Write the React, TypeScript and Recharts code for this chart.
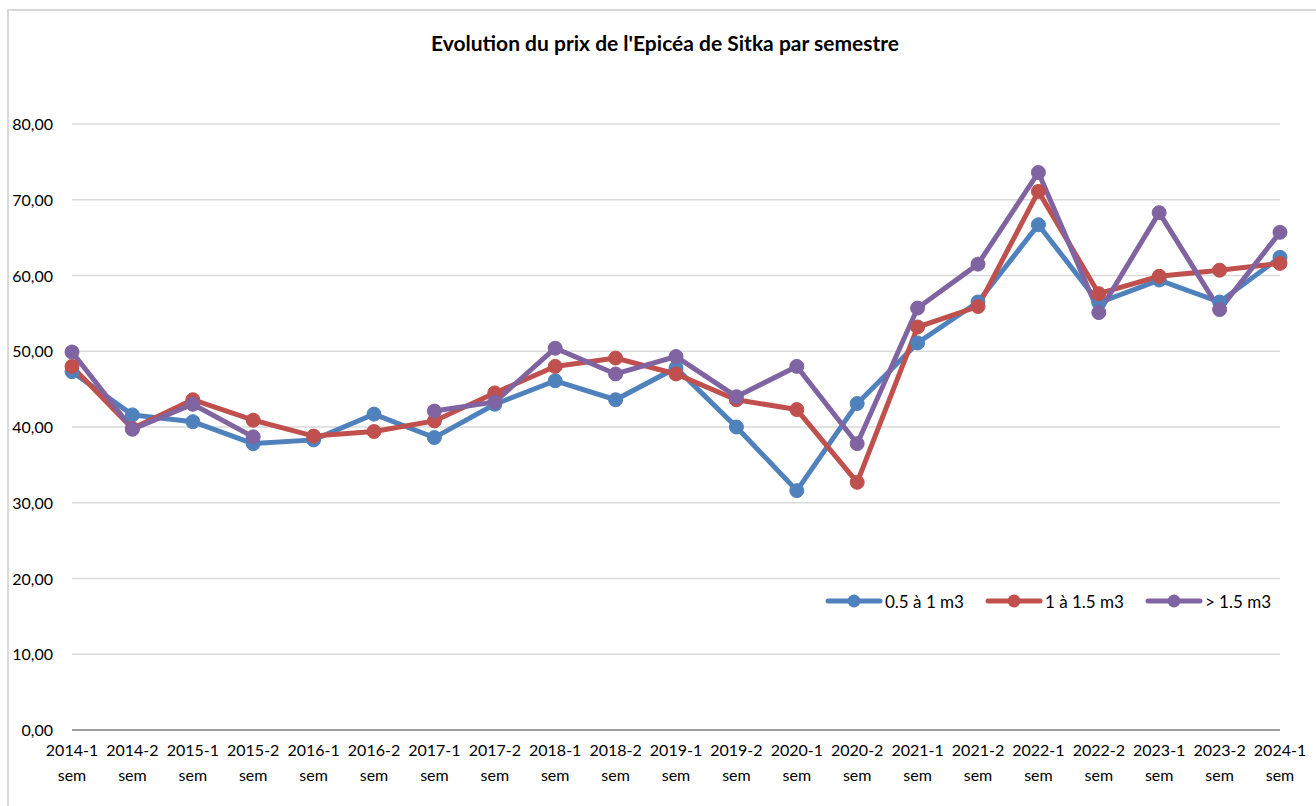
import React from "react";
import { LineChart, Line, XAxis, YAxis, CartesianGrid } from "recharts";

const categories = [
  "2014-1 sem", "2014-2 sem", "2015-1 sem", "2015-2 sem", "2016-1 sem", "2016-2 sem",
  "2017-1 sem", "2017-2 sem", "2018-1 sem", "2018-2 sem", "2019-1 sem", "2019-2 sem",
  "2020-1 sem", "2020-2 sem", "2021-1 sem", "2021-2 sem", "2022-1 sem", "2022-2 sem",
  "2023-1 sem", "2023-2 sem", "2024-1 sem",
];

const small = [47.3, 41.6, 40.7, 37.8, 38.3, 41.7, 38.6, 43.0, 46.1, 43.6, 47.8, 40.0, 31.6, 43.1, 51.1, 56.5, 66.7, 56.4, 59.4, 56.5, 62.4];
const medium = [48.0, 39.8, 43.6, 40.9, 38.8, 39.4, 40.8, 44.5, 48.0, 49.1, 47.0, 43.6, 42.3, 32.7, 53.2, 55.9, 71.1, 57.6, 59.9, 60.7, 61.6];
const large: (number | null)[] = [49.9, 39.7, 43.0, 38.7, null, null, 42.1, 43.3, 50.4, 47.0, 49.3, 44.0, 48.0, 37.8, 55.7, 61.5, 73.6, 55.1, 68.3, 55.5, 65.7];

const yTicks = [0, 10, 20, 30, 40, 50, 60, 70, 80];

const seriesNames = ["0.5 à 1 m3", "1 à 1.5 m3", "> 1.5 m3"];
const colors = ["#4F81BD", "#C0504D", "#8064A2"];

const data = categories.map((c, i) => ({
  cat: c,
  s0: small[i],
  s1: medium[i],
  s2: large[i],
}));

const FONT = "Lato, 'Open Sans', sans-serif";

const XTick = (props: any) => {
  const { x, y, payload } = props;
  const parts = String(payload.value).split(" ");
  return (
    <text x={x} y={y} textAnchor="middle" fill="#000" fontSize={16} fontFamily={FONT}>
      <tspan x={x} dy={18}>{parts[0]}</tspan>
      <tspan x={x} dy={25}>{parts[1]}</tspan>
    </text>
  );
};

const YTick = (props: any) => {
  const { x, y, payload } = props;
  return (
    <text x={x} y={y} dy={6} textAnchor="end" fill="#000" fontSize={16} fontFamily={FONT}>
      {Number(payload.value).toFixed(2).replace(".", ",")}
    </text>
  );
};

const Dot = (props: any) => {
  const { cx, cy, stroke, value } = props;
  if (value === null || value === undefined || cx == null || cy == null) return null;
  return <circle cx={cx} cy={cy} r={7} fill={stroke} stroke={stroke} strokeWidth={1} />;
};

export default function App() {
  return (
    <div style={{ position: "absolute", left: 0, top: 0, width: 1316, height: 806, background: "#fff", overflow: "hidden", fontFamily: FONT }}>
      <div style={{ position: "absolute", left: 7, top: 9, width: 1400, height: 900, borderTop: "2px solid #D9D9D9", borderLeft: "2px solid #D9D9D9" }} />
      <div style={{ position: "absolute", left: 0, top: 30, width: 1330, textAlign: "center", fontWeight: 700, fontSize: 21, color: "#000" }}>
        Evolution du prix de l'Epicéa de Sitka par semestre
      </div>
      <div style={{ position: "absolute", left: 0, top: 0 }}>
        <LineChart width={1316} height={806} data={data} margin={{ top: 124, right: 36, bottom: 0, left: 0 }}>
          <CartesianGrid vertical={false} stroke="#D9D9D9" strokeWidth={1.5} />
          <XAxis
            dataKey="cat"
            height={76}
            interval={0}
            tick={<XTick />}
            tickLine={false}
            axisLine={{ stroke: "#888888", strokeWidth: 1.5 }}
            tickMargin={2}
          />
          <YAxis
            width={72}
            domain={[0, 80]}
            ticks={yTicks}
            interval={0}
            tick={<YTick />}
            tickLine={false}
            axisLine={false}
            tickMargin={13}
          />
          {["s0", "s1", "s2"].map((k, i) => (
            <Line
              key={k}
              type="linear"
              dataKey={k}
              name={seriesNames[i]}
              stroke={colors[i]}
              strokeWidth={5}
              dot={<Dot />}
              activeDot={false}
              connectNulls={false}
              isAnimationActive={false}
            />
          ))}
        </LineChart>
      </div>
      <div style={{ position: "absolute", left: 824, top: 589, display: "flex", alignItems: "center", fontSize: 17, color: "#000" }}>
        {seriesNames.map((n, i) => (
          <div key={n} style={{ display: "flex", alignItems: "center", marginRight: i < 2 ? 20 : 0 }}>
            <svg width={60} height={24}>
              <line x1={4} y1={12} x2={56} y2={12} stroke={colors[i]} strokeWidth={5} strokeLinecap="round" />
              <circle cx={30} cy={12} r={6.5} fill={colors[i]} />
            </svg>
            <span style={{ marginLeft: 1 }}>{n}</span>
          </div>
        ))}
      </div>
    </div>
  );
}
